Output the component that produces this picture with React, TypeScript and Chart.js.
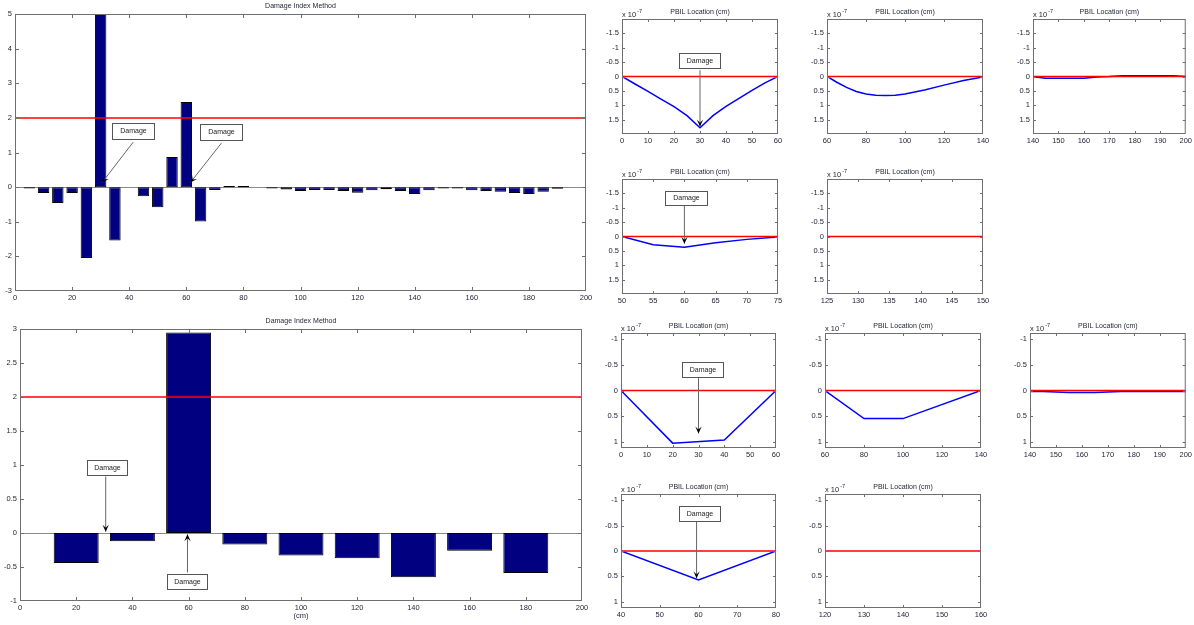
import React, { useEffect, useRef } from 'react';
import { Chart, registerables } from 'chart.js';

Chart.register(...registerables);

const FONT_FAMILY = '"Liberation Sans", Arial, Helvetica, sans-serif';
const TEXT_COLOR = '#1f1f35';
const FRAME_COLOR = '#6f6f6f';
const BAR_FILL = '#000080';
const BLUE = '#0000ff';
const RED = '#ff0000';

// ---------- Damage Index Method (upper) ----------
const diUpperX = [5, 10, 15, 20, 25, 30, 35, 40, 45, 50, 55, 60, 65, 70, 75, 80, 85, 90, 95, 100,
  105, 110, 115, 120, 125, 130, 135, 140, 145, 150, 155, 160, 165, 170, 175, 180, 185, 190, 195];
const diUpperValues = [-0.04, -0.17, -0.46, -0.17, -2.05, 5.0, -1.54, 0, -0.26, -0.58, 0.87, 2.46, -0.99, -0.08, 0.03, 0.03, 0, -0.04, -0.07, -0.11,
  -0.08, -0.08, -0.11, -0.16, -0.09, -0.06, -0.11, -0.2, -0.09, -0.04, -0.04, -0.09, -0.11, -0.13, -0.17, -0.2, -0.13, -0.05, 0];
const diUpperXTicks = [0, 20, 40, 60, 80, 100, 120, 140, 160, 180, 200];
const diUpperYTicks = [-3, -2, -1, 0, 1, 2, 3, 4, 5];

// ---------- Damage Index Method (lower) ----------
const diLowerX = [20, 40, 60, 80, 100, 120, 140, 160, 180];
const diLowerValues = [-0.44, -0.12, 2.95, -0.17, -0.33, -0.37, -0.65, -0.26, -0.59];
const diLowerXTicks = [0, 20, 40, 60, 80, 100, 120, 140, 160, 180, 200];
const diLowerYTicks = [-1, -0.5, 0, 0.5, 1, 1.5, 2, 2.5, 3];

const damageThreshold = 2;
const pbilBaseline = 0;

// ---------- PBIL (upper group) ----------
const pbilUpperYTicks = [-1.5, -1, -0.5, 0, 0.5, 1, 1.5];
const pbilA_X = [0, 5, 10, 15, 20, 25, 30, 35, 40, 45, 50, 55, 60];
const pbilA_Y = [0, 0.26, 0.52, 0.79, 1.05, 1.36, 1.78, 1.36, 1.04, 0.76, 0.48, 0.22, 0];
const pbilA_XTicks = [0, 10, 20, 30, 40, 50, 60];

const pbilB_X = [60, 65, 70, 75, 80, 85, 90, 95, 100, 110, 120, 130, 140];
const pbilB_Y = [0, 0.2, 0.38, 0.52, 0.61, 0.65, 0.66, 0.65, 0.61, 0.47, 0.3, 0.14, 0.02];
const pbilB_XTicks = [60, 80, 100, 120, 140];

const pbilC_X = [140, 145, 160, 165, 170, 175, 195, 200];
const pbilC_Y = [0.01, 0.06, 0.06, 0.02, 0, -0.03, -0.03, 0];
const pbilC_XTicks = [140, 150, 160, 170, 180, 190, 200];

const pbilD_X = [50, 55, 60, 65, 70, 75];
const pbilD_Y = [0, 0.29, 0.37, 0.22, 0.1, 0.02];
const pbilD_XTicks = [50, 55, 60, 65, 70, 75];

const pbilE_XTicks = [125, 130, 135, 140, 145, 150];

// ---------- PBIL (lower group) ----------
const pbilLowerYTicks = [-1, -0.5, 0, 0.5, 1];
const pbilF_X = [0, 20, 40, 60];
const pbilF_Y = [0, 1.03, 0.97, 0];
const pbilF_XTicks = [0, 10, 20, 30, 40, 50, 60];

const pbilG_X = [60, 80, 100, 140];
const pbilG_Y = [0, 0.55, 0.55, 0];
const pbilG_XTicks = [60, 80, 100, 120, 140];

const pbilH_X = [140, 145, 150, 155, 160, 165, 170, 175, 180, 200];
const pbilH_Y = [0.02, 0.02, 0.03, 0.04, 0.04, 0.04, 0.03, 0.02, 0.02, 0.02];
const pbilH_XTicks = [140, 150, 160, 170, 180, 190, 200];

const pbilI_X = [40, 60, 80];
const pbilI_Y = [0, 0.57, 0];
const pbilI_XTicks = [40, 50, 60, 70, 80];

const pbilJ_XTicks = [120, 130, 140, 150, 160];

type Pt = [number, number];
type Annot = { box: Pt; tail: Pt; head: Pt };

type Spec = {
  id: string;
  kind: 'bar' | 'line';
  plot: [number, number, number, number];
  pad: [number, number, number, number];
  xRange: [number, number];
  yRange: [number, number];
  reverseY?: boolean;
  xTicks: number[];
  yTicks: number[];
  barX?: number[];
  barY?: number[];
  lineX?: number[];
  lineY?: number[];
  threshold: number;
  title: string;
  titleDy: number;
  exponent?: boolean;
  xlabel?: string;
  annots: Annot[];
  boxSize: [number, number];
  tickLen: number;
};

function drawArrow(ctx: CanvasRenderingContext2D, x1: number, y1: number, x2: number, y2: number) {
  ctx.save();
  ctx.strokeStyle = '#666666';
  ctx.lineWidth = 1;
  ctx.beginPath();
  ctx.moveTo(x1, y1);
  ctx.lineTo(x2, y2);
  ctx.stroke();
  const ang = Math.atan2(y2 - y1, x2 - x1);
  const c = Math.cos(ang), s = Math.sin(ang);
  const L = 7, W = 3.2;
  ctx.fillStyle = '#000';
  ctx.beginPath();
  ctx.moveTo(x2, y2);
  ctx.lineTo(x2 - L * c + W * s, y2 - L * s - W * c);
  ctx.lineTo(x2 - 0.55 * L * c, y2 - 0.55 * L * s);
  ctx.lineTo(x2 - L * c - W * s, y2 - L * s + W * c);
  ctx.closePath();
  ctx.fill();
  ctx.restore();
}

function framePlugin(spec: Spec) {
  return {
    id: 'matlabFrame',
    beforeDatasetsDraw(chart: any) {
      if (spec.kind !== 'bar') return;
      const { ctx, chartArea: a, scales } = chart;
      const y0 = Math.round(scales.y.getPixelForValue(0)) + 0.5;
      ctx.save();
      ctx.strokeStyle = '#8a8a8a';
      ctx.lineWidth = 1;
      ctx.beginPath();
      ctx.moveTo(a.left, y0);
      ctx.lineTo(a.right, y0);
      ctx.stroke();
      ctx.restore();
    },
    afterDraw(chart: any) {
      const { ctx, chartArea: a, scales } = chart;
      const xs = scales.x, ys = scales.y;
      ctx.save();
      ctx.strokeStyle = FRAME_COLOR;
      ctx.lineWidth = 1;
      ctx.strokeRect(a.left + 0.5, a.top + 0.5, a.right - a.left - 1, a.bottom - a.top - 1);
      const tl = spec.tickLen;
      ctx.beginPath();
      for (const v of spec.xTicks) {
        if (v <= spec.xRange[0] || v >= spec.xRange[1]) continue;
        const px = Math.round(xs.getPixelForValue(v)) + 0.5;
        ctx.moveTo(px, a.bottom);
        ctx.lineTo(px, a.bottom - tl);
        ctx.moveTo(px, a.top);
        ctx.lineTo(px, a.top + tl);
      }
      for (const v of spec.yTicks) {
        if (v <= spec.yRange[0] || v >= spec.yRange[1]) continue;
        const py = Math.round(ys.getPixelForValue(v)) + 0.5;
        ctx.moveTo(a.left, py);
        ctx.lineTo(a.left + tl, py);
        ctx.moveTo(a.right, py);
        ctx.lineTo(a.right - tl, py);
      }
      ctx.stroke();

      ctx.fillStyle = TEXT_COLOR;
      ctx.font = `7px ${FONT_FAMILY}`;
      ctx.textAlign = 'center';
      ctx.textBaseline = 'middle';
      ctx.fillText(spec.title, (a.left + a.right) / 2, a.top - spec.titleDy);

      if (spec.exponent) {
        ctx.font = `7.5px ${FONT_FAMILY}`;
        ctx.textAlign = 'left';
        const base = 'x 10';
        ctx.fillText(base, a.left, a.top - 4.5);
        const w = ctx.measureText(base).width;
        ctx.font = `5.5px ${FONT_FAMILY}`;
        ctx.fillText('-7', a.left + w + 1, a.top - 8);
      }

      if (spec.xlabel) {
        ctx.font = `7.5px ${FONT_FAMILY}`;
        ctx.textAlign = 'center';
        ctx.fillText(spec.xlabel, (a.left + a.right) / 2, a.bottom + 15);
      }

      for (const an of spec.annots) {
        const tx = xs.getPixelForValue(an.tail[0]);
        const ty = ys.getPixelForValue(an.tail[1]);
        const hx = xs.getPixelForValue(an.head[0]);
        const hy = ys.getPixelForValue(an.head[1]);
        drawArrow(ctx, tx, ty, hx, hy);
        const bx = Math.round(xs.getPixelForValue(an.box[0]));
        const by = Math.round(ys.getPixelForValue(an.box[1]));
        const [bw, bh] = spec.boxSize;
        const x0 = Math.round(bx - bw / 2) + 0.5;
        const y0 = Math.round(by - bh / 2) + 0.5;
        ctx.fillStyle = '#ffffff';
        ctx.fillRect(x0, y0, bw, bh);
        ctx.strokeStyle = '#555555';
        ctx.lineWidth = 1;
        ctx.strokeRect(x0, y0, bw, bh);
        ctx.fillStyle = '#222222';
        ctx.font = `7px ${FONT_FAMILY}`;
        ctx.textAlign = 'center';
        ctx.textBaseline = 'middle';
        ctx.fillText('Damage', x0 + bw / 2, y0 + bh / 2);
      }
      ctx.restore();
    },
  };
}

function buildConfig(spec: Spec): any {
  const [pl, pt, pr, pb] = spec.pad;
  const tickFont = { family: FONT_FAMILY, size: 7.5 };
  const datasets: any[] = [];
  datasets.push({
    type: 'line',
    data: [
      { x: spec.xRange[0], y: spec.threshold },
      { x: spec.xRange[1], y: spec.threshold },
    ],
    borderColor: RED,
    borderWidth: 1.5,
    pointRadius: 0,
    order: 0,
  });
  if (spec.barX && spec.barY) {
    const ys = spec.barY;
    datasets.push({
      type: 'bar',
      data: spec.barX.map((x, i) => ({ x, y: ys[i] })),
      backgroundColor: BAR_FILL,
      borderColor: '#000000',
      borderWidth: 1,
      borderSkipped: false,
      barPercentage: 1,
      categoryPercentage: 0.8,
      order: 1,
    });
  }
  if (spec.lineX && spec.lineY) {
    const ys = spec.lineY;
    datasets.push({
      type: 'line',
      data: spec.lineX.map((x, i) => ({ x, y: ys[i] })),
      borderColor: BLUE,
      borderWidth: 1.5,
      pointRadius: 0,
      tension: 0,
      order: 1,
    });
  }
  return {
    type: spec.kind,
    data: { datasets },
    options: {
      animation: false,
      responsive: false,
      devicePixelRatio: 1,
      events: [],
      layout: { padding: { left: 0, top: pt, right: pr, bottom: 0 } },
      plugins: {
        legend: { display: false },
        tooltip: { enabled: false },
        title: { display: false },
      },
      scales: {
        x: {
          type: 'linear',
          min: spec.xRange[0],
          max: spec.xRange[1],
          offset: false,
          grid: { display: false, drawTicks: false },
          border: { display: false },
          afterBuildTicks: (s: any) => {
            s.ticks = spec.xTicks.map((v) => ({ value: v }));
          },
          afterFit: (s: any) => {
            s.height = pb;
          },
          ticks: {
            font: tickFont,
            color: TEXT_COLOR,
            padding: 2,
            maxRotation: 0,
            autoSkip: false,
            callback: (v: any) => String(v),
          },
        },
        y: {
          type: 'linear',
          min: spec.yRange[0],
          max: spec.yRange[1],
          reverse: !!spec.reverseY,
          grid: { display: false, drawTicks: false },
          border: { display: false },
          afterBuildTicks: (s: any) => {
            s.ticks = spec.yTicks.map((v) => ({ value: v }));
          },
          afterFit: (s: any) => {
            s.width = pl;
          },
          ticks: {
            font: tickFont,
            color: TEXT_COLOR,
            padding: 3,
            autoSkip: false,
            callback: (v: any) => String(v),
          },
        },
      },
    },
    plugins: [framePlugin(spec)],
  };
}

const SMALL_PAD: [number, number, number, number] = [30, 16, 10, 14];

const specs: Spec[] = [
  {
    id: 'diUpper', kind: 'bar', plot: [15, 14, 586, 291], pad: [15, 14, 12, 14],
    xRange: [0, 200], yRange: [-3, 5], xTicks: diUpperXTicks, yTicks: diUpperYTicks,
    barX: diUpperX, barY: diUpperValues, threshold: damageThreshold,
    title: 'Damage Index Method', titleDy: 8, tickLen: 4, boxSize: [42, 16],
    annots: [
      { box: [41.4, 1.61], tail: [41.4, 1.3], head: [30.5, 0.13] },
      { box: [72, 1.6], tail: [72.3, 1.27], head: [61.4, 0.13] },
    ],
  },
  {
    id: 'diLower', kind: 'bar', plot: [20, 329, 582, 601], pad: [20, 14, 12, 24],
    xRange: [0, 200], yRange: [-1, 3], xTicks: diLowerXTicks, yTicks: diLowerYTicks,
    barX: diLowerX, barY: diLowerValues, threshold: damageThreshold,
    title: 'Damage Index Method', titleDy: 8, tickLen: 4, boxSize: [40, 15], xlabel: '(cm)',
    annots: [
      { box: [31, 0.97], tail: [30.5, 0.83], head: [30.5, 0.02] },
      { box: [59.4, -0.71], tail: [59.6, -0.58], head: [59.6, -0.02] },
    ],
  },
  {
    id: 'A', kind: 'line', plot: [622, 19, 778, 134], pad: SMALL_PAD,
    xRange: [0, 60], yRange: [-2, 2], reverseY: true, xTicks: pbilA_XTicks, yTicks: pbilUpperYTicks,
    lineX: pbilA_X, lineY: pbilA_Y, threshold: pbilBaseline,
    title: 'PBIL Location (cm)', titleDy: 7, exponent: true, tickLen: 3, boxSize: [41, 15],
    annots: [{ box: [29.8, -0.56], tail: [30, -0.22], head: [30, 1.74] }],
  },
  {
    id: 'B', kind: 'line', plot: [827, 19, 983, 134], pad: SMALL_PAD,
    xRange: [60, 140], yRange: [-2, 2], reverseY: true, xTicks: pbilB_XTicks, yTicks: pbilUpperYTicks,
    lineX: pbilB_X, lineY: pbilB_Y, threshold: pbilBaseline,
    title: 'PBIL Location (cm)', titleDy: 7, exponent: true, tickLen: 3, boxSize: [41, 15], annots: [],
  },
  {
    id: 'C', kind: 'line', plot: [1033, 19, 1187, 134], pad: [30, 16, 7, 14],
    xRange: [140, 200], yRange: [-2, 2], reverseY: true, xTicks: pbilC_XTicks, yTicks: pbilUpperYTicks,
    lineX: pbilC_X, lineY: pbilC_Y, threshold: pbilBaseline,
    title: 'PBIL Location (cm)', titleDy: 7, exponent: true, tickLen: 3, boxSize: [41, 15], annots: [],
  },
  {
    id: 'D', kind: 'line', plot: [622, 179, 778, 294], pad: SMALL_PAD,
    xRange: [50, 75], yRange: [-2, 2], reverseY: true, xTicks: pbilD_XTicks, yTicks: pbilUpperYTicks,
    lineX: pbilD_X, lineY: pbilD_Y, threshold: pbilBaseline,
    title: 'PBIL Location (cm)', titleDy: 7, exponent: true, tickLen: 3, boxSize: [42, 14],
    annots: [{ box: [60.2, -1.35], tail: [60, -1.08], head: [60, 0.25] }],
  },
  {
    id: 'E', kind: 'line', plot: [827, 179, 983, 294], pad: SMALL_PAD,
    xRange: [125, 150], yRange: [-2, 2], reverseY: true, xTicks: pbilE_XTicks, yTicks: pbilUpperYTicks,
    threshold: pbilBaseline,
    title: 'PBIL Location (cm)', titleDy: 7, exponent: true, tickLen: 3, boxSize: [41, 15], annots: [],
  },
  {
    id: 'F', kind: 'line', plot: [621, 333, 776, 448], pad: SMALL_PAD,
    xRange: [0, 60], yRange: [-1.125, 1.125], reverseY: true, xTicks: pbilF_XTicks, yTicks: pbilLowerYTicks,
    lineX: pbilF_X, lineY: pbilF_Y, threshold: pbilBaseline,
    title: 'PBIL Location (cm)', titleDy: 7, exponent: true, tickLen: 3, boxSize: [41, 15],
    annots: [{ box: [31.5, -0.42], tail: [30, -0.24], head: [30, 0.84] }],
  },
  {
    id: 'G', kind: 'line', plot: [825, 333, 981, 448], pad: SMALL_PAD,
    xRange: [60, 140], yRange: [-1.125, 1.125], reverseY: true, xTicks: pbilG_XTicks, yTicks: pbilLowerYTicks,
    lineX: pbilG_X, lineY: pbilG_Y, threshold: pbilBaseline,
    title: 'PBIL Location (cm)', titleDy: 7, exponent: true, tickLen: 3, boxSize: [41, 15], annots: [],
  },
  {
    id: 'H', kind: 'line', plot: [1030, 333, 1186, 448], pad: [30, 16, 8, 14],
    xRange: [140, 200], yRange: [-1.125, 1.125], reverseY: true, xTicks: pbilH_XTicks, yTicks: pbilLowerYTicks,
    lineX: pbilH_X, lineY: pbilH_Y, threshold: pbilBaseline,
    title: 'PBIL Location (cm)', titleDy: 7, exponent: true, tickLen: 3, boxSize: [41, 15], annots: [],
  },
  {
    id: 'I', kind: 'line', plot: [621, 494, 776, 608], pad: SMALL_PAD,
    xRange: [40, 80], yRange: [-1.125, 1.125], reverseY: true, xTicks: pbilI_XTicks, yTicks: pbilLowerYTicks,
    lineX: pbilI_X, lineY: pbilI_Y, threshold: pbilBaseline,
    title: 'PBIL Location (cm)', titleDy: 7, exponent: true, tickLen: 3, boxSize: [41, 15],
    annots: [{ box: [60, -0.745], tail: [59.5, -0.58], head: [59.5, 0.54] }],
  },
  {
    id: 'J', kind: 'line', plot: [825, 494, 981, 608], pad: SMALL_PAD,
    xRange: [120, 160], yRange: [-1.125, 1.125], reverseY: true, xTicks: pbilJ_XTicks, yTicks: pbilLowerYTicks,
    threshold: pbilBaseline,
    title: 'PBIL Location (cm)', titleDy: 7, exponent: true, tickLen: 3, boxSize: [41, 15], annots: [],
  },
];

function Subplot({ spec }: { spec: Spec }) {
  const ref = useRef<HTMLCanvasElement | null>(null);
  useEffect(() => {
    const canvas = ref.current;
    if (!canvas) return;
    const chart = new Chart(canvas, buildConfig(spec));
    return () => chart.destroy();
  }, [spec]);
  const [l, t, r, b] = spec.plot;
  const [pl, pt, pr, pb] = spec.pad;
  const w = r - l + pl + pr;
  const h = b - t + pt + pb;
  return (
    <canvas
      ref={ref}
      width={w}
      height={h}
      style={{ position: 'absolute', left: l - pl, top: t - pt, width: w, height: h }}
    />
  );
}

export default function App() {
  useEffect(() => {
    document.body.style.margin = '0';
  }, []);
  return (
    <div
      style={{
        position: 'absolute',
        left: 0,
        top: 0,
        width: 1194,
        height: 625,
        background: '#ffffff',
        overflow: 'hidden',
      }}
    >
      {specs.map((s) => (
        <Subplot key={s.id} spec={s} />
      ))}
    </div>
  );
}
